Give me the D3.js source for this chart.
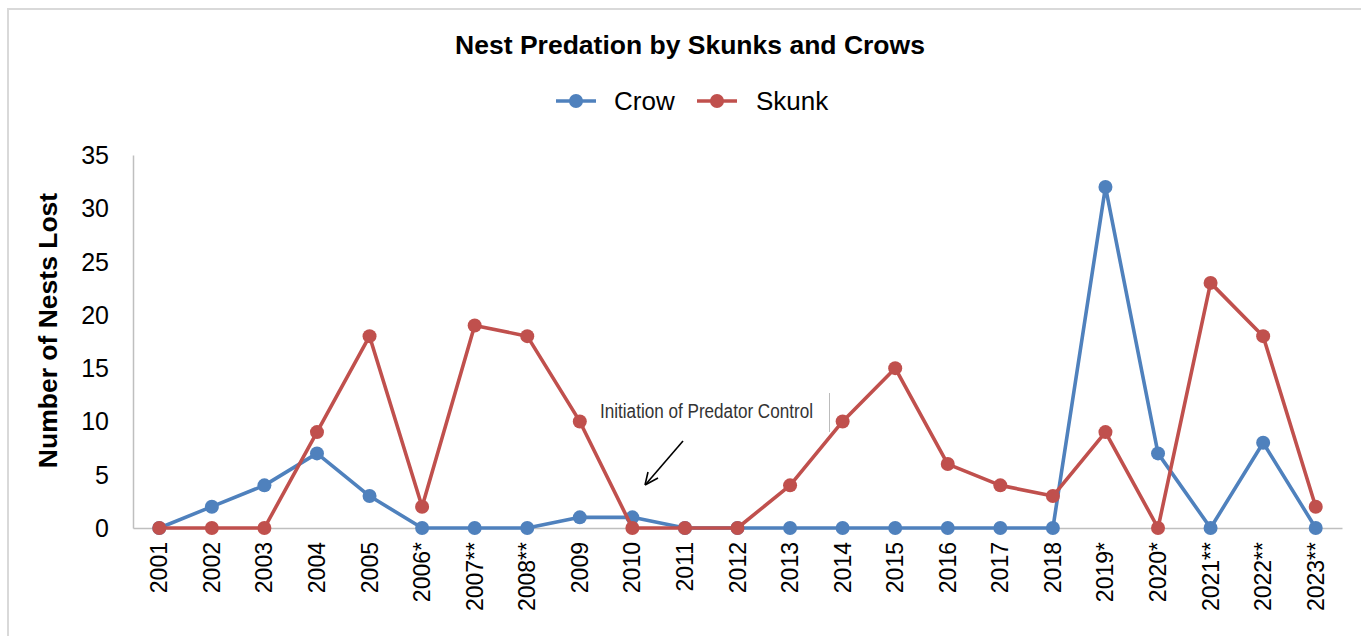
<!DOCTYPE html>
<html>
<head>
<meta charset="utf-8">
<script src="https://cdn.jsdelivr.net/npm/d3@7"></script>
<style>
  html, body { margin: 0; padding: 0; background: #fff; }
  svg { display: block; font-family: "Liberation Sans", Arial, sans-serif; }
</style>
</head>
<body>
<svg id="chart" width="1361" height="636"></svg>
<script>
// Nest losses per season, by predator
const years = ["2001","2002","2003","2004","2005","2006*","2007**","2008**","2009","2010",
  "2011","2012","2013","2014","2015","2016","2017","2018","2019*","2020*","2021**","2022**","2023**"];
const crowValues  = [0,2,4,7,3,0,0,0,1,1,0,0,0,0,0,0,0,0,32,7,0,8,0];
const skunkValues = [0,0,0,9,18,2,19,18,10,0,0,0,4,10,15,6,4,3,9,0,23,18,2];
const yTicks = [0,5,10,15,20,25,30,35];
const seriesNames = ["Crow","Skunk"];
const seriesColors = ["#4F81BD","#C0504D"];

const svg = d3.select("#chart");
const W = 1361, H = 636;
const m = { left: 133, right: 1342, top: 155, bottom: 528 };
const FONT = "Liberation Sans, Arial, sans-serif";

// chart frame
svg.append("path")
  .attr("d", `M8,${H + 5} L8,9 L${W + 5},9`)
  .attr("fill", "none").attr("stroke", "#d9d9d9").attr("stroke-width", 2);

const x = d3.scaleBand().domain(years).range([m.left, m.right]);
const y = d3.scaleLinear().domain([0, 35]).range([m.bottom, m.top]);
const cx = d => x(d) + x.bandwidth() / 2;

// y axis
const yAxis = svg.append("g").attr("transform", `translate(${m.left},0)`)
  .call(d3.axisLeft(y).tickValues(yTicks).tickSize(0).tickPadding(24));
yAxis.select(".domain").attr("stroke", "#bfbfbf").attr("stroke-width", 1.5);
yAxis.selectAll("text").attr("font-size", 25).attr("fill", "#000")
  .attr("font-family", FONT).attr("dy", "0.34em");

// x axis
const xAxis = svg.append("g").attr("transform", `translate(0,${m.bottom})`)
  .call(d3.axisBottom(x).tickSize(0).tickPadding(0));
xAxis.select(".domain").attr("stroke", "#bfbfbf").attr("stroke-width", 1.5);
xAxis.selectAll("text")
  .attr("font-size", 23).attr("fill", "#000")
  .attr("font-family", FONT)
  .attr("text-anchor", "end")
  .attr("dy", null).attr("y", 0)
  .attr("transform", "translate(8,14) rotate(-90)");

// axis title
svg.append("text")
  .attr("transform", `translate(57,${(m.top + m.bottom) / 2 - 11}) rotate(-90)`)
  .attr("text-anchor", "middle")
  .attr("font-size", 26.5).attr("font-weight", "bold")
  .text("Number of Nests Lost");

// chart title
svg.append("text")
  .attr("x", 690).attr("y", 54).attr("text-anchor", "middle")
  .attr("font-size", 26.5).attr("font-weight", "bold")
  .text("Nest Predation by Skunks and Crows");

// series
const series = [crowValues, skunkValues];
const line = d3.line().x((d, i) => cx(years[i])).y(d => y(d));
series.forEach((vals, s) => {
  const g = svg.append("g");
  g.append("path").datum(vals)
    .attr("d", line).attr("fill", "none")
    .attr("stroke", seriesColors[s]).attr("stroke-width", 3.6)
    .attr("stroke-linejoin", "round");
  g.selectAll("circle").data(vals).join("circle")
    .attr("cx", (d, i) => cx(years[i])).attr("cy", d => y(d))
    .attr("r", 7).attr("fill", seriesColors[s]);
});

// legend
const legend = [{ x: 556, tx: 614 }, { x: 697, tx: 756 }];
seriesNames.forEach((name, i) => {
  const g = svg.append("g");
  g.append("line").attr("x1", legend[i].x).attr("x2", legend[i].x + 40)
    .attr("y1", 101).attr("y2", 101)
    .attr("stroke", seriesColors[i]).attr("stroke-width", 3.6);
  g.append("circle").attr("cx", legend[i].x + 20).attr("cy", 101).attr("r", 7)
    .attr("fill", seriesColors[i]);
  g.append("text").attr("x", legend[i].tx).attr("y", 110)
    .attr("font-size", 26).text(name);
});

// annotation
svg.append("text")
  .attr("x", 600).attr("y", 418)
  .attr("font-size", 19.5).attr("fill", "#333")
  .attr("textLength", 213).attr("lengthAdjust", "spacingAndGlyphs")
  .text("Initiation of Predator Control");
svg.append("line").attr("x1", 829.5).attr("x2", 829.5).attr("y1", 393).attr("y2", 432)
  .attr("stroke", "#bbbbbb").attr("stroke-width", 1);
svg.append("line").attr("x1", 683).attr("y1", 441).attr("x2", 646).attr("y2", 484)
  .attr("stroke", "#000").attr("stroke-width", 1.6);
svg.append("path").attr("d", "M645,485 L648,472 M645,485 L658,478")
  .attr("stroke", "#000").attr("stroke-width", 1.6).attr("fill", "none");
</script>
</body>
</html>
